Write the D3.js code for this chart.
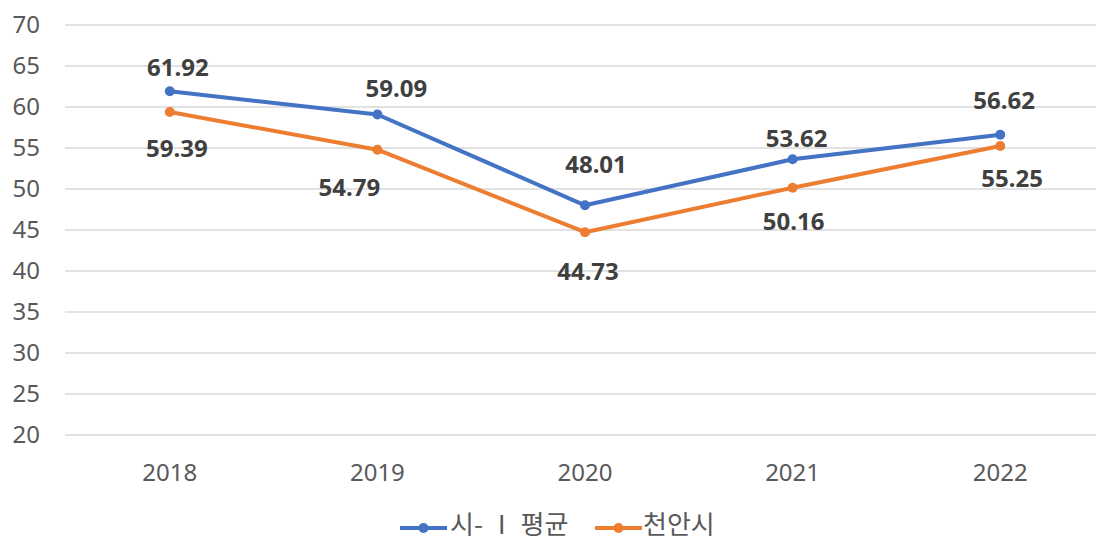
<!DOCTYPE html>
<html><head><meta charset="utf-8">
<script src="https://cdn.jsdelivr.net/npm/d3@7"></script>
<style>
html,body{margin:0;padding:0;background:#fff;}
svg{display:block;font-family:"Noto Sans","Noto Sans CJK KR",sans-serif;}
</style></head>
<body><svg id="chart" width="1096" height="542"></svg>
<script>
const years = ["2018","2019","2020","2021","2022"];
const seriesNames = ["시- Ⅰ 평균","천안시"];
const avgValues = [61.92, 59.09, 48.01, 53.62, 56.62];
const cheonanValues = [59.39, 54.79, 44.73, 50.16, 55.25];
const yTicks = [20,25,30,35,40,45,50,55,60,65,70];

const colors = ["#4472C4","#ED7D31"];
// label placement offsets (layout, px)
const labelOffsets = [
  [[8,-24],[19,-26],[11,-41],[4,-21],[4,-34]],
  [[7,37],[-28,38],[3,39],[1,34],[12,33]]
];

const svg = d3.select("#chart");
const x = d3.scaleBand().domain(years).range([66, 1104]);
const y = d3.scaleLinear().domain([20,70]).range([435,25]);

svg.append("g").selectAll("line").data(yTicks).join("line")
  .attr("x1",65).attr("x2",1104)
  .attr("y1",d=>y(d)).attr("y2",d=>y(d))
  .attr("stroke","#d9d9d9").attr("stroke-width",1.3);

svg.append("g").selectAll("text").data(yTicks).join("text")
  .attr("x",40).attr("y",d=>y(d)).attr("dy","0.35em")
  .attr("text-anchor","end").attr("font-size",24).attr("fill","#595959")
  .text(d=>d);

svg.append("g").selectAll("text").data(years).join("text")
  .attr("x",d=>x(d)+x.bandwidth()/2).attr("y",473).attr("dy","0.35em")
  .attr("text-anchor","middle").attr("font-size",24).attr("fill","#595959")
  .text(d=>d);

const series = [avgValues, cheonanValues];
const line = d3.line().x((d,i)=>x(years[i])+x.bandwidth()/2).y(d=>y(d));

series.forEach((vals,si)=>{
  const g = svg.append("g");
  g.append("path").datum(vals).attr("d",line)
    .attr("fill","none").attr("stroke",colors[si]).attr("stroke-width",4)
    .attr("stroke-linejoin","round");
  g.selectAll("circle").data(vals).join("circle")
    .attr("cx",(d,i)=>x(years[i])+x.bandwidth()/2).attr("cy",d=>y(d)).attr("r",5)
    .attr("fill",colors[si]);
  g.selectAll("text").data(vals).join("text")
    .attr("x",(d,i)=>x(years[i])+x.bandwidth()/2+labelOffsets[si][i][0])
    .attr("y",(d,i)=>y(d)+labelOffsets[si][i][1]).attr("dy","0.35em")
    .attr("text-anchor","middle").attr("font-size",24).attr("font-weight","bold")
    .attr("fill","#404040")
    .text(d=>d.toFixed(2));
});

const legendItems = [{x:400, tx:450},{x:595, tx:643}];
legendItems.forEach((it,i)=>{
  const g = svg.append("g");
  g.append("line").attr("x1",it.x).attr("x2",it.x+47).attr("y1",528).attr("y2",528)
    .attr("stroke",colors[i]).attr("stroke-width",4);
  g.append("circle").attr("cx",it.x+23.5).attr("cy",528).attr("r",5).attr("fill",colors[i]);
  g.append("text").attr("x",it.tx).attr("y",525).attr("dy","0.35em")
    .attr("font-size",26).attr("fill","#595959")
    .attr("font-family","'Noto Sans CJK KR',sans-serif")
    .text(seriesNames[i]);
});
</script></body></html>
